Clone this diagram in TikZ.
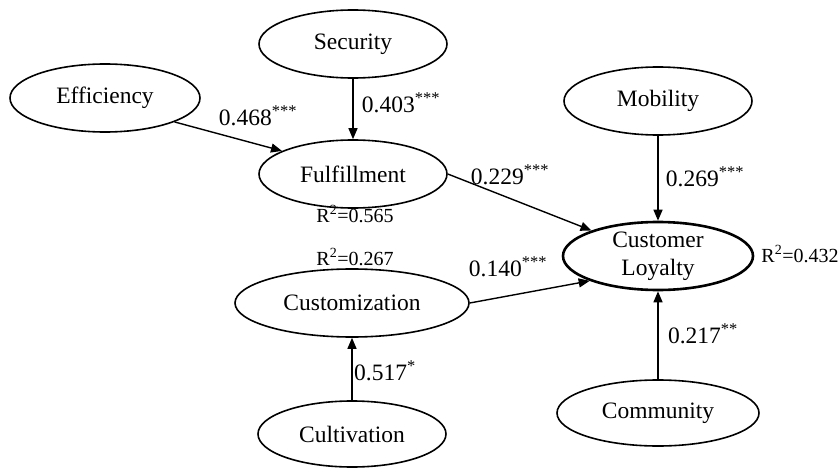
\documentclass[tikz,border=0pt]{standalone}
\usepackage{fontspec}
\setmainfont{Liberation Serif}
\usetikzlibrary{shapes.geometric,arrows.meta}
\begin{document}
\begin{tikzpicture}[x=1pt,y=-1pt,
  ell/.style={draw,ellipse,line width=1.6pt,inner sep=0pt,font=\fontsize{23.5}{28}\selectfont,align=center},
  coef/.style={font=\fontsize{23.5}{27}\selectfont,inner sep=0pt},
  rsq/.style={font=\fontsize{20}{24}\selectfont,inner sep=0pt},
  arr/.style={line width=1.4pt,-{Triangle[length=11pt,width=9pt]}}]
\useasboundingbox (0,0) rectangle (838,468);
\node[ell,minimum width=190pt,minimum height=68pt] (eff) at (105,98) {Efficiency};
\node[ell,minimum width=188pt,minimum height=68pt] (sec) at (353,44) {Security};
\node[ell,minimum width=188pt,minimum height=68pt] (ful) at (353,174) {Fulfillment};
\node[ell,minimum width=188pt,minimum height=68pt] (mob) at (658,101) {Mobility};
\node[ell,line width=2.6pt,minimum width=190pt,minimum height=68pt,inner ysep=-2pt] (cl) at (658,256) {Customer\\Loyalty};
\node[ell,minimum width=234pt,minimum height=68pt] (cus) at (352,303) {Customization};
\node[ell,minimum width=188pt,minimum height=66pt] (cul) at (352,434) {Cultivation};
\node[ell,minimum width=202pt,minimum height=66pt] (com) at (658,413) {Community};

\draw[arr] (eff.-19) -- (ful.162);
\draw[arr] (sec) -- (ful);
\draw[arr] (ful.east) -- (cl.159);
\draw[arr] (mob) -- (cl);
\draw[arr] (cus.east) -- (cl.200);
\draw[arr] (cul) -- (cus);
\draw[arr] (com) -- (cl);

\node[coef] (l1) at (258,116) {0.468\textsuperscript{***}};
\node[coef] (l2) at (401,103) {0.403\textsuperscript{***}};
\node[coef] (l3) at (510,175) {0.229\textsuperscript{***}};
\node[coef] (l4) at (705,177) {0.269\textsuperscript{***}};
\node[coef] (l5) at (508,267) {0.140\textsuperscript{***}};
\node[coef] (l6) at (385,371) {0.517\textsuperscript{*}};
\node[coef] (l7) at (703,334) {0.217\textsuperscript{**}};
\node[rsq] (r1) at (355,214) {R\textsuperscript{2}=0.565};
\node[rsq] (r2) at (355,257) {R\textsuperscript{2}=0.267};
\node[rsq] (r3) at (800,254) {R\textsuperscript{2}=0.432};
\end{tikzpicture}
\end{document}
